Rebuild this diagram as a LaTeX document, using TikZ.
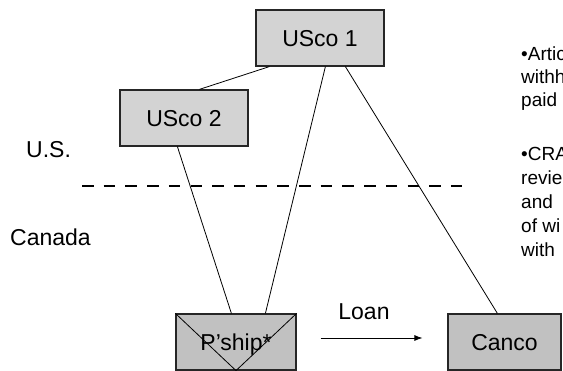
\documentclass[tikz,border=0pt]{standalone}
\usepackage{fontspec}
\setmainfont{Liberation Sans}
\usetikzlibrary{arrows.meta,calc}
\definecolor{topfill}{RGB}{211,211,211}
\definecolor{botfill}{RGB}{193,193,193}
\begin{document}
\begin{tikzpicture}[x=1pt,y=-1pt,
  box/.style={draw=black!85,line width=1.2pt,minimum height=56pt,inner sep=0pt,
    font=\fontsize{23}{27}\selectfont,text height=16.5pt,text depth=0pt},
  conn/.style={line width=0.8pt},
  lbl/.style={font=\fontsize{23}{27}\selectfont,inner sep=0pt,anchor=base west},
  note/.style={font=\fontsize{19}{23}\selectfont,inner sep=0pt,anchor=base west}]
\useasboundingbox (0,0) rectangle (563,371);
\node[box,fill=topfill,minimum width=128pt] (u1) at (320,38) {USco 1};
\node[box,fill=topfill,minimum width=128pt] (u2) at (184,118) {USco 2};
\node[box,fill=botfill,minimum width=120pt] (p) at (236,342) {P’ship*};
\node[box,fill=botfill,minimum width=113pt] (c) at (504.5,342) {Canco};
\draw[conn] (p.north west) -- (p.south) -- (p.north east);
\draw[conn] ($(u1.south west)+(14,0)$) -- ($(u2.north west)+(80,0)$);
\draw[conn] ($(u2.south west)+(58,0)$) -- ($(p.north west)+(56,0)$);
\draw[conn] ($(u1.south west)+(70,0)$) -- ($(p.north west)+(90,0)$);
\draw[conn] ($(u1.south west)+(90,0)$) -- ($(c.north west)+(50,0)$);
\coordinate (dl) at (82,186);
\coordinate (dr) at (472,186);
\draw[line width=2pt,dash pattern=on 11.5pt off 10.2pt] (dl) -- (dr);
\draw[conn,-{Latex[length=8pt,width=6pt]}] ($(p.east)+(24,-4)$) -- ($(c.west)+(-25,-4)$);
\node[lbl,anchor=base] (loan) at (364,320) {Loan};
\node[lbl] (us) at (26,158) {U.S.};
\node[lbl] (ca) at (10,246) {Canada};
\node[note] (n1) at (521,61) {•Artic};
\node[note] (n2) at (521,84) {withh};
\node[note] (n3) at (521,107) {paid};
\node[note] (n4) at (521,161) {•CRA};
\node[note] (n5) at (521,185) {revie};
\node[note] (n6) at (521,209) {and};
\node[note] (n7) at (521,233) {of wi};
\node[note] (n8) at (521,257) {with};
\end{tikzpicture}
\end{document}
